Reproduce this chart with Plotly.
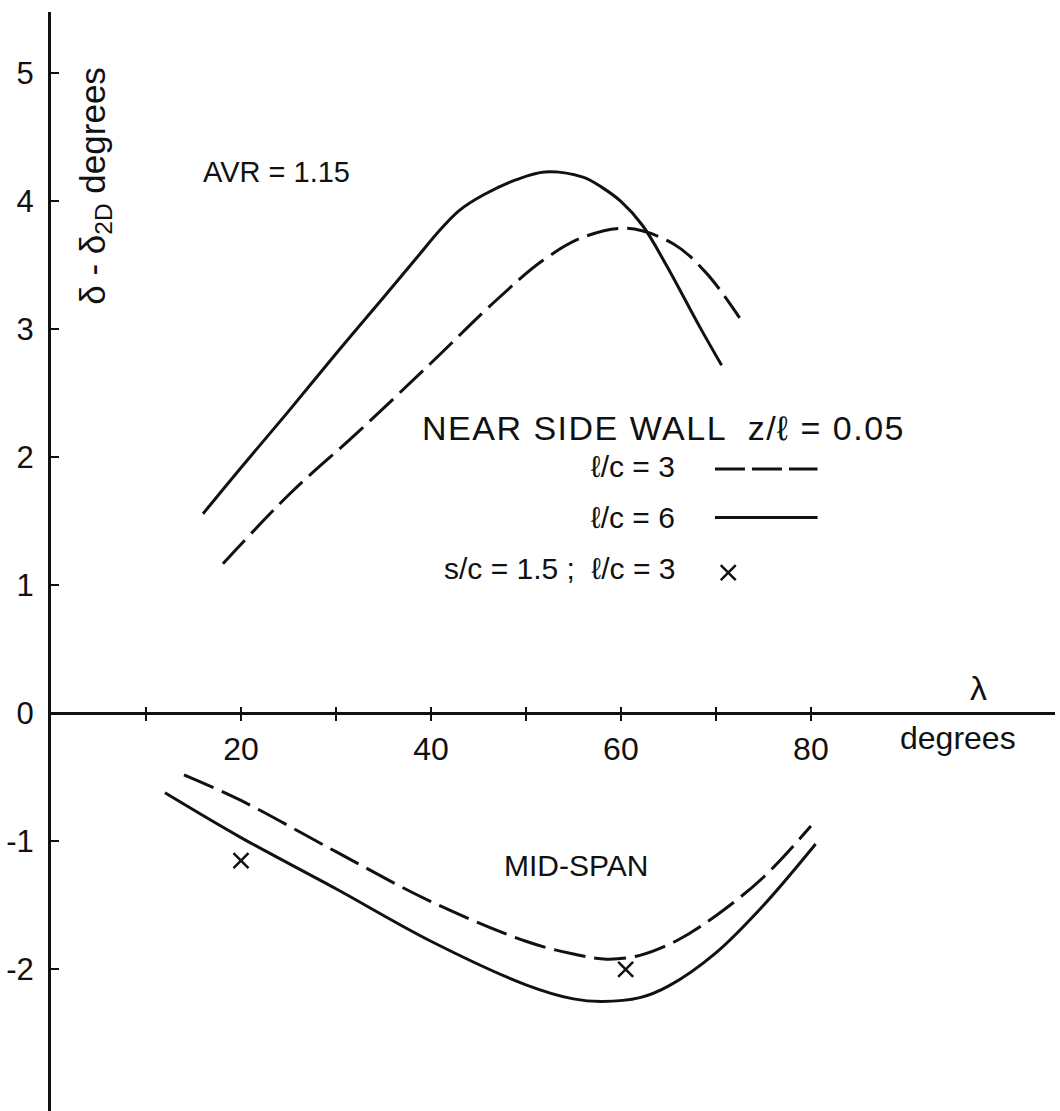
import plotly.graph_objects as go

# ---------------- data ----------------
# NEAR SIDE WALL, l/c = 6 (solid)
lam_nsw6 = [16.0, 20, 25, 30, 35, 38.5, 41, 43, 45.5, 49, 52, 56, 58, 60, 62.3, 64.8, 68.3, 70.6]
dev_nsw6 = [1.56, 1.92, 2.36, 2.81, 3.25, 3.56, 3.78, 3.93, 4.05, 4.17, 4.23, 4.19, 4.11, 4.00, 3.81, 3.50, 3.02, 2.72]

# NEAR SIDE WALL, l/c = 3 (dashed)
lam_nsw3 = [18.1, 25.2, 32.2, 39.9, 46.9, 51.8, 56, 60.6, 65.5, 69, 72.5]
dev_nsw3 = [1.17, 1.72, 2.19, 2.73, 3.23, 3.54, 3.72, 3.79, 3.67, 3.44, 3.09]

# MID-SPAN, l/c = 6 (solid)
lam_mid6 = [12, 20, 30, 40, 50, 55, 58, 62, 65, 70, 75, 80.5]
dev_mid6 = [-0.62, -0.97, -1.37, -1.78, -2.12, -2.23, -2.25, -2.22, -2.13, -1.87, -1.50, -1.02]

# MID-SPAN, l/c = 3 (dashed)
lam_mid3 = [14, 20, 30, 40, 50, 55, 58.5, 62, 66, 70, 75, 80]
dev_mid3 = [-0.48, -0.68, -1.08, -1.47, -1.78, -1.88, -1.92, -1.89, -1.77, -1.58, -1.28, -0.88]

# s/c = 1.5 ; l/c = 3 (crosses)
lam_x = [20, 60.5]
dev_x = [-1.15, -2.0]

x_tick_vals = [20, 40, 60, 80]
x_tick_text = ["20", "40", "60", "80"]
x_minor_vals = [10, 30, 50, 70]
y_tick_vals = [-2, -1, 0, 1, 2, 3, 4, 5]
y_tick_text = ["-2", "-1", "0", "1", "2", "3", "4", "5"]

X_RANGE = [0, 105.7]
Y_RANGE = [-3.106, 5.48]

FONT = "Liberation Sans"
BLACK = "#111111"
DASH = "32px,9px"

fig = go.Figure()

def curve(x, y, dash, axis="x"):
    fig.add_trace(go.Scatter(
        x=x, y=y, mode="lines", xaxis=axis,
        line=dict(color=BLACK, width=3, dash=dash, shape="spline", smoothing=1.0),
        hoverinfo="skip", showlegend=False))

curve(lam_nsw6, dev_nsw6, "solid")
curve(lam_nsw3, dev_nsw3, DASH)
curve(lam_mid6, dev_mid6, "solid")
curve(lam_mid3, dev_mid3, DASH)

fig.add_trace(go.Scatter(
    x=lam_x, y=dev_x, mode="markers", xaxis="x2",
    marker=dict(symbol="x-thin-open", size=15, color=BLACK, line=dict(color=BLACK, width=2.5)),
    hoverinfo="skip", showlegend=False))

# legend samples
leg_x = [69.9, 80.7]
fig.add_trace(go.Scatter(x=leg_x, y=[1.91, 1.91], mode="lines",
                         line=dict(color=BLACK, width=3, dash="30px,7px"),
                         hoverinfo="skip", showlegend=False))
fig.add_trace(go.Scatter(x=leg_x, y=[1.53, 1.53], mode="lines",
                         line=dict(color=BLACK, width=3),
                         hoverinfo="skip", showlegend=False))
fig.add_trace(go.Scatter(x=[71.3], y=[1.10], mode="markers",
                         marker=dict(symbol="x-thin-open", size=15, color=BLACK,
                                     line=dict(color=BLACK, width=2.5)),
                         hoverinfo="skip", showlegend=False))

pos0 = (0 - Y_RANGE[0]) / (Y_RANGE[1] - Y_RANGE[0])

fig.update_layout(
    width=1060, height=1111,
    margin=dict(l=51, r=5, t=12, b=0, pad=0),
    paper_bgcolor="white", plot_bgcolor="white",
    showlegend=False,
    font=dict(family=FONT, color=BLACK),
    xaxis=dict(range=X_RANGE, anchor="free", position=pos0,
               showline=True, linecolor=BLACK, linewidth=2.5,
               ticks="outside", ticklen=6, tickwidth=2, tickcolor=BLACK,
               tickvals=x_tick_vals, ticktext=x_tick_text,
               minor=dict(tickvals=x_minor_vals, ticks="outside", ticklen=6,
                          tickwidth=2, tickcolor=BLACK, showgrid=False),
               tickfont=dict(size=32, family=FONT, color=BLACK),
               showgrid=False, zeroline=False),
    xaxis2=dict(range=X_RANGE, overlaying="x", matches="x", anchor="free", position=pos0,
                showline=False, ticks="inside", ticklen=6, tickwidth=2, tickcolor=BLACK,
                tickvals=x_tick_vals, showticklabels=False,
                minor=dict(tickvals=x_minor_vals, ticks="inside", ticklen=6,
                           tickwidth=2, tickcolor=BLACK, showgrid=False),
                showgrid=False, zeroline=False),
    yaxis=dict(range=Y_RANGE, showline=True, linecolor=BLACK, linewidth=3,
               ticks="inside", ticklen=8, tickwidth=2, tickcolor=BLACK,
               tickvals=y_tick_vals, ticktext=y_tick_text,
               tickfont=dict(size=31, family=FONT, color=BLACK),
               ticklabelstandoff=8,
               showgrid=False, zeroline=False),
)

def note(text, x, y, size=30, xanchor="center", yanchor="middle", angle=0):
    fig.add_annotation(text=text, x=x, y=y, xref="x", yref="y", showarrow=False,
                       xanchor=xanchor, yanchor=yanchor, textangle=angle,
                       font=dict(size=size, family=FONT, color=BLACK))

note("AVR = 1.15", 23.7, 4.23, size=29)
note('<span style="letter-spacing:1.5px">NEAR SIDE WALL  z/ℓ = 0.05</span>',
     38.8, 2.23, size=34, xanchor="left")
note("ℓ/c = 3", 65.9, 1.93, size=30, xanchor="right")
note("ℓ/c = 6", 65.9, 1.53, size=30, xanchor="right")
note("s/c = 1.5 ;\u00a0 ℓ/c = 3", 65.9, 1.13, size=30, xanchor="right")
note("MID-SPAN", 55.3, -1.19, size=30)
note("λ", 97.6, 0.20, size=34)
note("degrees", 95.5, -0.19, size=32)
note("δ - δ<sub>2D</sub> degrees", 4.6, 4.12, size=35, angle=-90)

fig.write_html("out.html")
